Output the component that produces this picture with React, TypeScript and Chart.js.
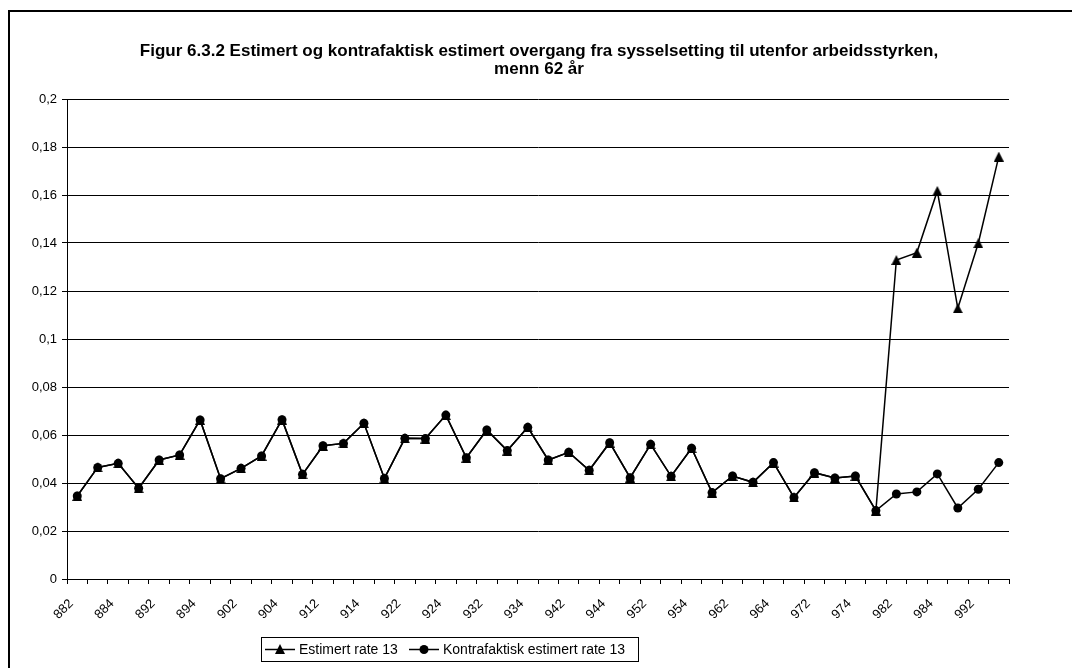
import React, { useEffect, useRef } from 'react';
import { Chart, registerables } from 'chart.js';

Chart.register(...registerables);

const TITLE_LINES = [
  'Figur 6.3.2 Estimert og kontrafaktisk estimert overgang fra sysselsetting til utenfor arbeidsstyrken,',
  'menn 62 år',
];

const QUARTERS = [
  '882', '883', '884',
  '891', '892', '893', '894',
  '901', '902', '903', '904',
  '911', '912', '913', '914',
  '921', '922', '923', '924',
  '931', '932', '933', '934',
  '941', '942', '943', '944',
  '951', '952', '953', '954',
  '961', '962', '963', '964',
  '971', '972', '973', '974',
  '981', '982', '983', '984',
  '991', '992', '993',
];

const ESTIMERT = [
  0.0346, 0.0465, 0.0482, 0.0378, 0.0496, 0.0517, 0.0663, 0.0418, 0.0461, 0.0513,
  0.0664, 0.0436, 0.0555, 0.0565, 0.0649, 0.0419, 0.0586, 0.0585, 0.0683, 0.0505,
  0.0621, 0.0535, 0.0632, 0.0496, 0.0528, 0.0453, 0.0568, 0.0422, 0.0561, 0.0428,
  0.0545, 0.0360, 0.0429, 0.0403, 0.0485, 0.0340, 0.0443, 0.0421, 0.0429, 0.0285,
  0.1329, 0.1360, 0.1617, 0.1128, 0.1399, 0.1760,
];

const KONTRAFAKTISK = [
  0.0346, 0.0465, 0.0482, 0.0378, 0.0496, 0.0517, 0.0663, 0.0418, 0.0461, 0.0513,
  0.0664, 0.0436, 0.0555, 0.0565, 0.0649, 0.0419, 0.0586, 0.0585, 0.0683, 0.0505,
  0.0621, 0.0535, 0.0632, 0.0496, 0.0528, 0.0453, 0.0568, 0.0422, 0.0561, 0.0428,
  0.0545, 0.0360, 0.0429, 0.0403, 0.0485, 0.0340, 0.0443, 0.0421, 0.0429, 0.0285,
  0.0354, 0.0363, 0.0438, 0.0296, 0.0374, 0.0485,
];

const SERIES_NAMES = ['Estimert rate 13', 'Kontrafaktisk estimert rate 13'];

const Y_MIN = 0;
const Y_MAX = 0.2;
const Y_STEP = 0.02;

const FONT = "'Liberation Sans', Arial, sans-serif";

function fmtTick(v: number): string {
  const r = Math.round(v * 100) / 100;
  return String(r).replace('.', ',');
}

// Excel-style triangle marker: apex at top of box, base at bottom of box
function makeTriangleImage(size: number): HTMLCanvasElement {
  const c = document.createElement('canvas');
  c.width = size;
  c.height = size;
  const g = c.getContext('2d')!;
  g.fillStyle = '#000';
  g.beginPath();
  g.moveTo(size / 2, 0);
  g.lineTo(size, size);
  g.lineTo(0, size);
  g.closePath();
  g.fill();
  return c;
}

function drawTriangle(ctx: CanvasRenderingContext2D, x: number, y: number, size: number) {
  ctx.beginPath();
  ctx.moveTo(x, y - size / 2);
  ctx.lineTo(x + size / 2, y + size / 2);
  ctx.lineTo(x - size / 2, y + size / 2);
  ctx.closePath();
  ctx.fill();
}

const decorPlugin = {
  id: 'decor',
  beforeDraw(chart: any) {
    const ctx = chart.ctx as CanvasRenderingContext2D;
    ctx.save();
    ctx.fillStyle = '#fff';
    ctx.fillRect(0, 0, chart.width, chart.height);
    ctx.restore();
  },
  afterDraw(chart: any) {
    const ctx = chart.ctx as CanvasRenderingContext2D;
    ctx.save();
    // outer frame
    ctx.strokeStyle = '#000';
    ctx.lineWidth = 2;
    ctx.strokeRect(9, 11, 1200, 800);

    // title
    ctx.fillStyle = '#000';
    ctx.font = `bold 17px ${FONT}`;
    ctx.textAlign = 'center';
    ctx.textBaseline = 'middle';
    TITLE_LINES.forEach((t, i) => ctx.fillText(t, 539, 51 + i * 18));

    // legend
    ctx.lineWidth = 1;
    ctx.strokeStyle = '#000';
    ctx.strokeRect(261.5, 637.5, 377, 24);
    const ly = 649.5;
    ctx.font = `14px ${FONT}`;
    ctx.textAlign = 'left';
    const items = [
      { x: 265, kind: 'triangle', name: SERIES_NAMES[0] },
      { x: 409, kind: 'circle', name: SERIES_NAMES[1] },
    ];
    items.forEach((it) => {
      ctx.lineWidth = 1.5;
      ctx.beginPath();
      ctx.moveTo(it.x, ly);
      ctx.lineTo(it.x + 30, ly);
      ctx.stroke();
      if (it.kind === 'triangle') {
        drawTriangle(ctx, it.x + 15, ly - 0.5, 10);
      } else {
        ctx.beginPath();
        ctx.arc(it.x + 15, ly, 4.5, 0, Math.PI * 2);
        ctx.fill();
      }
      ctx.fillText(it.name, it.x + 34, ly + 1);
    });
    ctx.restore();
  },
};

export default function App() {
  const canvasRef = useRef<HTMLCanvasElement | null>(null);

  useEffect(() => {
    const canvas = canvasRef.current;
    if (!canvas) return;
    const tri = makeTriangleImage(10);
    const chart = new Chart(canvas, {
      type: 'line',
      data: {
        labels: QUARTERS,
        datasets: [
          {
            label: SERIES_NAMES[0],
            data: ESTIMERT,
            borderColor: '#000',
            backgroundColor: '#000',
            borderWidth: 1.5,
            pointStyle: tri,
            pointRadius: 5,
            pointBorderWidth: 0,
            pointBackgroundColor: '#000',
            tension: 0,
            fill: false,
            order: 1,
          },
          {
            label: SERIES_NAMES[1],
            data: KONTRAFAKTISK,
            borderColor: '#000',
            backgroundColor: '#000',
            borderWidth: 1.5,
            pointStyle: 'circle',
            pointRadius: 4.5,
            pointBorderWidth: 0,
            pointBackgroundColor: '#000',
            tension: 0,
            fill: false,
            order: 0,
          },
        ],
      },
      options: {
        responsive: false,
        animation: false,
        devicePixelRatio: 1,
        layout: { padding: { top: 99, right: 63, left: 0, bottom: 0 } },
        plugins: {
          legend: { display: false },
          title: { display: false },
          tooltip: { enabled: false },
        },
        scales: {
          x: {
            type: 'category',
            offset: true,
            grid: {
              display: true,
              drawOnChartArea: false,
              drawTicks: true,
              tickLength: 5,
              color: '#000',
              offset: true,
            },
            border: { display: true, color: '#000', width: 1 },
            ticks: {
              autoSkip: false,
              minRotation: 45,
              maxRotation: 45,
              padding: 12,
              labelOffset: -6,
              color: '#000',
              font: { family: FONT, size: 13 },
              callback: (_v: any, idx: number) => (idx % 2 === 0 ? QUARTERS[idx] : ''),
            },
            afterFit: (s: any) => {
              s.height = 89;
            },
          },
          y: {
            min: Y_MIN,
            max: Y_MAX,
            grid: { color: '#000', tickLength: 5, drawTicks: true },
            border: { display: true, color: '#000', width: 1 },
            ticks: {
              stepSize: Y_STEP,
              padding: 5,
              color: '#000',
              font: { family: FONT, size: 13 },
              callback: (v: any) => fmtTick(Number(v)),
            },
            afterFit: (s: any) => {
              s.width = 67;
            },
          },
        },
      },
      plugins: [decorPlugin],
    });
    return () => chart.destroy();
  }, []);

  return (
    <div style={{ position: 'absolute', left: 0, top: 0, width: 1072, height: 668, background: '#fff' }}>
      <canvas ref={canvasRef} width={1072} height={668} style={{ display: 'block' }} />
    </div>
  );
}
